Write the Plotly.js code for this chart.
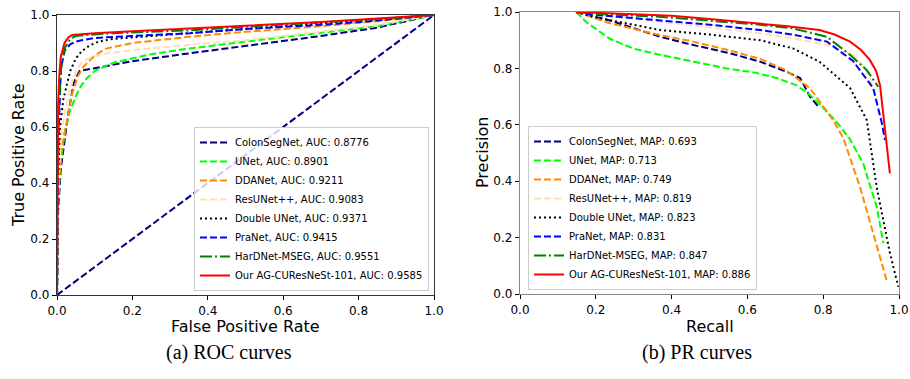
<!DOCTYPE html>
<html>
<head>
<meta charset="utf-8">
<script src="https://cdn.plot.ly/plotly-3.0.1.min.js"></script>
<style>html,body{margin:0;padding:0;background:#fff;}#chart{width:910px;height:379px;}</style>
</head>
<body>
<div id="chart"></div>
<script>
// ---------- ROC data ----------
const rocNames = ["ColonSegNet, AUC: 0.8776","UNet, AUC: 0.8901","DDANet, AUC: 0.9211","ResUNet++, AUC: 0.9083","Double UNet, AUC: 0.9371","PraNet, AUC: 0.9415","HarDNet-MSEG, AUC: 0.9551","Our AG-CUResNeSt-101, AUC: 0.9585"];
const colonFpr = [0, 0.003, 0.01, 0.02, 0.03, 0.045, 0.06, 0.1, 0.2, 0.35, 0.5, 0.7, 0.85, 1];
const colonTpr = [0, 0.3, 0.45, 0.55, 0.65, 0.76, 0.80, 0.81, 0.835, 0.863, 0.89, 0.925, 0.955, 1];
const unetFpr = [0, 0.002, 0.008, 0.02, 0.035, 0.05, 0.065, 0.08, 0.1, 0.15, 0.25, 0.35, 0.5, 0.7, 0.85, 1];
const unetTpr = [0, 0.3, 0.45, 0.58, 0.66, 0.71, 0.75, 0.775, 0.80, 0.83, 0.86, 0.88, 0.905, 0.935, 0.96, 1];
const ddaFpr = [0, 0.003, 0.01, 0.02, 0.026, 0.039, 0.055, 0.07, 0.1, 0.13, 0.2, 0.35, 0.5, 0.7, 0.85, 1];
const ddaTpr = [0, 0.35, 0.5, 0.58, 0.62, 0.714, 0.78, 0.815, 0.855, 0.88, 0.9, 0.922, 0.94, 0.96, 0.978, 1];
const resFpr = [0, 0.003, 0.01, 0.02, 0.035, 0.05, 0.065, 0.083, 0.12, 0.2, 0.35, 0.5, 0.7, 0.85, 1];
const resTpr = [0, 0.4, 0.55, 0.65, 0.74, 0.8, 0.83, 0.845, 0.86, 0.875, 0.893, 0.91, 0.94, 0.965, 1];
const dblFpr = [0, 0.002, 0.005, 0.008, 0.017, 0.035, 0.05, 0.065, 0.085, 0.11, 0.15, 0.25, 0.4, 0.6, 0.8, 1];
const dblTpr = [0, 0.35, 0.5, 0.6, 0.7, 0.8, 0.845, 0.87, 0.89, 0.905, 0.915, 0.925, 0.94, 0.96, 0.98, 1];
const praFpr = [0, 0.002, 0.005, 0.01, 0.015, 0.021, 0.035, 0.05, 0.065, 0.1, 0.2, 0.353, 0.5, 0.7, 0.85, 1];
const praTpr = [0, 0.4, 0.6, 0.8, 0.84, 0.875, 0.895, 0.905, 0.91, 0.918, 0.925, 0.935, 0.95, 0.965, 0.98, 1];
const harFpr = [0, 0.002, 0.005, 0.01, 0.02, 0.035, 0.05, 0.07, 0.15, 0.35, 0.5, 0.7, 0.85, 1];
const harTpr = [0, 0.45, 0.65, 0.8, 0.88, 0.915, 0.925, 0.928, 0.935, 0.945, 0.958, 0.972, 0.985, 1];
const oursFpr = [0, 0.001, 0.003, 0.006, 0.01, 0.02, 0.03, 0.04, 0.1, 0.2, 0.35, 0.5, 0.7, 0.85, 1];
const oursTpr = [0, 0.5, 0.68, 0.78, 0.85, 0.9, 0.92, 0.929, 0.935, 0.942, 0.953, 0.962, 0.975, 0.988, 1];
const chanceX = [0, 1];
const chanceY = [0, 1];

// ---------- PR data ----------
const prNames = ["ColonSegNet, MAP: 0.693","UNet, MAP: 0.713","DDANet, MAP: 0.749","ResUNet++, MAP: 0.819","Double UNet, MAP: 0.823","PraNet, MAP: 0.831","HarDNet-MSEG, MAP: 0.847","Our AG-CUResNeSt-101, MAP: 0.886"];
const colonRec = [0.148, 0.237, 0.37, 0.457, 0.55, 0.633, 0.7, 0.739, 0.765, 0.79];
const colonPre = [1.0, 0.97, 0.912, 0.883, 0.855, 0.824, 0.79, 0.766, 0.70, 0.66];
const unetRec = [0.148, 0.176, 0.237, 0.3, 0.37, 0.45, 0.545, 0.62, 0.677, 0.73, 0.765, 0.8, 0.835, 0.87, 0.905, 0.941, 0.959];
const unetPre = [1.0, 0.963, 0.905, 0.87, 0.848, 0.825, 0.8, 0.785, 0.766, 0.74, 0.706, 0.66, 0.611, 0.55, 0.465, 0.31, 0.18];
const ddaRec = [0.148, 0.237, 0.37, 0.457, 0.55, 0.633, 0.7, 0.765, 0.826, 0.853, 0.897, 0.935, 0.967];
const ddaPre = [1.0, 0.96, 0.918, 0.895, 0.865, 0.834, 0.795, 0.73, 0.617, 0.553, 0.38, 0.2, 0.05];
const resRec = [0.148, 0.2, 0.37, 0.5, 0.633, 0.72, 0.81, 0.879, 0.91, 0.93];
const resPre = [1.0, 0.99, 0.965, 0.945, 0.925, 0.907, 0.883, 0.85, 0.8, 0.74];
const dblRec = [0.148, 0.193, 0.37, 0.5, 0.633, 0.72, 0.79, 0.871, 0.915, 0.941, 0.976, 0.998];
const dblPre = [1.0, 0.983, 0.936, 0.92, 0.9, 0.871, 0.824, 0.73, 0.617, 0.38, 0.145, 0.026];
const praRec = [0.148, 0.2, 0.37, 0.5, 0.633, 0.72, 0.81, 0.879, 0.932, 0.954, 0.963];
const praPre = [1.0, 0.99, 0.97, 0.955, 0.936, 0.92, 0.895, 0.826, 0.73, 0.61, 0.546];
const harRec = [0.148, 0.2, 0.37, 0.5, 0.633, 0.72, 0.81, 0.871, 0.915, 0.945];
const harPre = [1.0, 0.993, 0.983, 0.968, 0.955, 0.942, 0.912, 0.848, 0.794, 0.735];
const oursRec = [0.148, 0.2, 0.3, 0.4, 0.5, 0.633, 0.7, 0.79, 0.83, 0.871, 0.9, 0.923, 0.94, 0.95, 0.958, 0.967, 0.976];
const oursPre = [1.0, 0.997, 0.992, 0.987, 0.975, 0.96, 0.95, 0.936, 0.92, 0.895, 0.865, 0.83, 0.79, 0.74, 0.64, 0.53, 0.428];

const tickVals = [0, 0.2, 0.4, 0.6, 0.8, 1.0];

// ---------- styles ----------
const styles = [
  {color: "#000080", dash: "7px,3px"},
  {color: "#00ff00", dash: "7px,3px"},
  {color: "#ff8c00", dash: "7px,3px"},
  {color: "#ffdfb8", dash: "7px,3px"},
  {color: "#000000", dash: "2px,3px"},
  {color: "#0000ff", dash: "7px,3px"},
  {color: "#008000", dash: "12px,3px,2px,3px"},
  {color: "#ff0000", dash: "solid"}
];

const rocX = [colonFpr, unetFpr, ddaFpr, resFpr, dblFpr, praFpr, harFpr, oursFpr];
const rocY = [colonTpr, unetTpr, ddaTpr, resTpr, dblTpr, praTpr, harTpr, oursTpr];
const prX = [colonRec, unetRec, ddaRec, resRec, dblRec, praRec, harRec, oursRec];
const prY = [colonPre, unetPre, ddaPre, resPre, dblPre, praPre, harPre, oursPre];

const traces = [];
traces.push({x: chanceX, y: chanceY, mode: "lines", xaxis: "x", yaxis: "y", showlegend: false,
  line: {color: "#000080", width: 2, dash: "7px,3px"}, hoverinfo: "skip"});
for (let i = 0; i < 8; i++) {
  traces.push({x: rocX[i], y: rocY[i], mode: "lines", name: rocNames[i], xaxis: "x", yaxis: "y",
    legend: "legend", line: {color: styles[i].color, width: 2, dash: styles[i].dash}});
}
for (let i = 0; i < 8; i++) {
  traces.push({x: prX[i], y: prY[i], mode: "lines", name: prNames[i], xaxis: "x2", yaxis: "y2",
    legend: "legend2", line: {color: styles[i].color, width: 2, dash: styles[i].dash}});
}

const font = "DejaVu Sans, sans-serif";
function axis(domain, anchor, lineColor) {
  return {domain: domain, anchor: anchor, range: [0, 1], tickvals: tickVals, tickformat: ".1f",
    showline: true, mirror: true, linecolor: lineColor, linewidth: 1.2, showgrid: false, zeroline: false,
    ticks: "outside", ticklen: 4, tickwidth: 1, tickcolor: "#000",
    tickfont: {family: font, size: 12, color: "#000"}, fixedrange: true};
}
const legendStyle = {font: {family: font, size: 10, color: "#000"}, bgcolor: "rgba(255,255,255,0.8)",
  bordercolor: "#cccccc", borderwidth: 1, itemwidth: 30, xanchor: "right", yanchor: "bottom", tracegroupgap: 0};

const layout = {
  width: 910, height: 379, margin: {l: 0, r: 0, t: 0, b: 0},
  paper_bgcolor: "#fff", plot_bgcolor: "#fff",
  xaxis: axis([57/910, 434/910], "y", "#333"),
  yaxis: axis([1-295/379, 1-15/379], "x", "#333"),
  xaxis2: axis([520/910, 899/910], "y2", "#888"),
  yaxis2: axis([1-294/379, 1-12/379], "x2", "#888"),
  legend: Object.assign({x: 429/910, y: 1-291/379}, legendStyle),
  legend2: Object.assign({x: 757/910, y: 1-290/379}, legendStyle),
  annotations: [
    {text: "True Positive Rate", x: 18/910, y: 1-155/379, xref: "paper", yref: "paper", textangle: -90,
      showarrow: false, font: {family: font, size: 16, color: "#000"}, xanchor: "center", yanchor: "middle"},
    {text: "Precision", x: 482/910, y: 1-153/379, xref: "paper", yref: "paper", textangle: -90,
      showarrow: false, font: {family: font, size: 16, color: "#000"}, xanchor: "center", yanchor: "middle"},
    {text: "False Positive Rate", x: 245/910, y: 1-326/379, xref: "paper", yref: "paper",
      showarrow: false, font: {family: font, size: 16, color: "#000"}, xanchor: "center", yanchor: "middle"},
    {text: "Recall", x: 710/910, y: 1-326/379, xref: "paper", yref: "paper",
      showarrow: false, font: {family: font, size: 16, color: "#000"}, xanchor: "center", yanchor: "middle"},
    {text: "(a) ROC curves", x: 229/910, y: 1-352/379, xref: "paper", yref: "paper",
      showarrow: false, font: {family: "Liberation Serif, serif", size: 20, color: "#000"}, xanchor: "center", yanchor: "middle"},
    {text: "(b) PR curves", x: 697/910, y: 1-352/379, xref: "paper", yref: "paper",
      showarrow: false, font: {family: "Liberation Serif, serif", size: 20, color: "#000"}, xanchor: "center", yanchor: "middle"}
  ]
};

Plotly.newPlot("chart", traces, layout, {displayModeBar: false, staticPlot: true});
</script>
</body>
</html>
